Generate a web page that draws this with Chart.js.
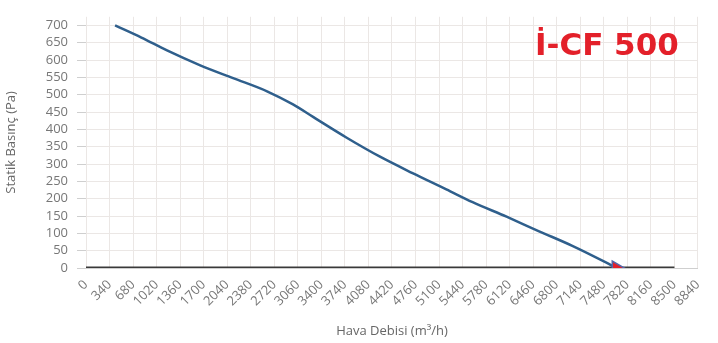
<!DOCTYPE html>
<html>
<head>
<meta charset="utf-8">
<script src="https://cdn.jsdelivr.net/npm/chart.js@4"></script>
<style>
  html, body { margin: 0; padding: 0; background: #fff; }
  #wrap { position: relative; width: 718px; height: 343px; }
  #badge { position: absolute; left: 535px; top: 29px; font-family: "DejaVu Sans", sans-serif; font-weight: 700; font-size: 31px; line-height: 1; color: #e3202a; white-space: nowrap; }
</style>
</head>
<body>
<div id="wrap">
  <canvas id="c" width="718" height="343"></canvas>
  <div id="badge">İ-CF 500</div>
</div>
<script>
// Fan curve: air flow (m3/h) vs static pressure (Pa)
const flowValues     = [420, 800, 1170, 1650, 2125, 2615, 2990, 3280, 3766, 4240, 4717, 5205, 5585, 6075, 6545, 7025, 7510, 7660];
const pressureValues = [700, 665, 628,  585,  548,  510,  472,  436,  376,  322,  274,  227,  190,  148,  106,  64,   16,   0];
// Zero reference line
const baseFlow     = [0, 8500];
const basePressure = [0, 0];
// Tick labels
const xTickValues = [0,340,680,1020,1360,1700,2040,2380,2720,3060,3400,3740,4080,4420,4760,5100,5440,5780,6120,6460,6800,7140,7480,7820,8160,8500,8840];
const yTickValues = [0,50,100,150,200,250,300,350,400,450,500,550,600,650,700];
const xTitle = 'Hava Debisi (m³/h)';
const yTitle = 'Statik Basınç (Pa)';

const curve = flowValues.map((x, i) => ({ x, y: pressureValues[i] }));
const base = baseFlow.map((x, i) => ({ x, y: basePressure[i] }));
const lastIdx = curve.length - 1;

const tickFont = { family: '"Open Sans", sans-serif', size: 13 };
const gridColor = '#ebe7e5';

new Chart(document.getElementById('c'), {
  type: 'scatter',
  data: {
    datasets: [
      {
        data: base,
        showLine: true,
        borderColor: '#3a3a3a',
        borderWidth: 3,
        pointRadius: 0,
        order: 2
      },
      {
        data: curve,
        showLine: true,
        borderColor: '#2f5f8c',
        borderWidth: 2.5,
        tension: 0.3,
        cubicInterpolationMode: 'monotone',
        pointRadius: ctx => ctx.dataIndex === lastIdx ? 8 : 0,
        pointStyle: 'triangle',
        rotation: 90,
        pointBackgroundColor: '#e3202a',
        pointBorderColor: '#5566aa',
        pointBorderWidth: 1.5,
        order: 1
      }
    ]
  },
  options: {
    responsive: false,
    animation: false,
    events: [],
    layout: { padding: { top: 9, right: 19, left: 0, bottom: 0 } },
    plugins: { legend: { display: false }, tooltip: { enabled: false } },
    scales: {
      x: {
        type: 'linear',
        min: 0,
        max: 8840,
        afterBuildTicks: s => { s.ticks = xTickValues.map(v => ({ value: v })); },
        afterFit: s => { s.height = 75; },
        border: { display: true, color: '#cfcfcf', width: 1 },
        grid: { color: gridColor, drawTicks: false },
        ticks: {
          minRotation: 45, maxRotation: 45,
          autoSkip: false,
          padding: 9,
          color: '#777',
          font: tickFont,
          callback: v => String(v)
        },
        title: {
          display: true, text: xTitle, color: '#666',
          font: { family: '"Open Sans", sans-serif', size: 13 },
          padding: { top: 0, bottom: 4 }
        }
      },
      y: {
        type: 'linear',
        min: 0,
        max: 725,
        afterBuildTicks: s => { s.ticks = yTickValues.map(v => ({ value: v })); },
        afterFit: s => { s.width = 86; },
        border: { display: false },
        grid: { color: gridColor, tickLength: 9, tickColor: '#cfcfcf' },
        ticks: {
          autoSkip: false,
          padding: 9,
          color: '#777',
          font: tickFont,
          callback: v => String(v)
        },
        title: {
          display: true, text: yTitle, color: '#666',
          font: { family: '"Open Sans", sans-serif', size: 13 },
          padding: { top: 3, bottom: 2 }
        }
      }
    }
  }
});
</script>
</body>
</html>
